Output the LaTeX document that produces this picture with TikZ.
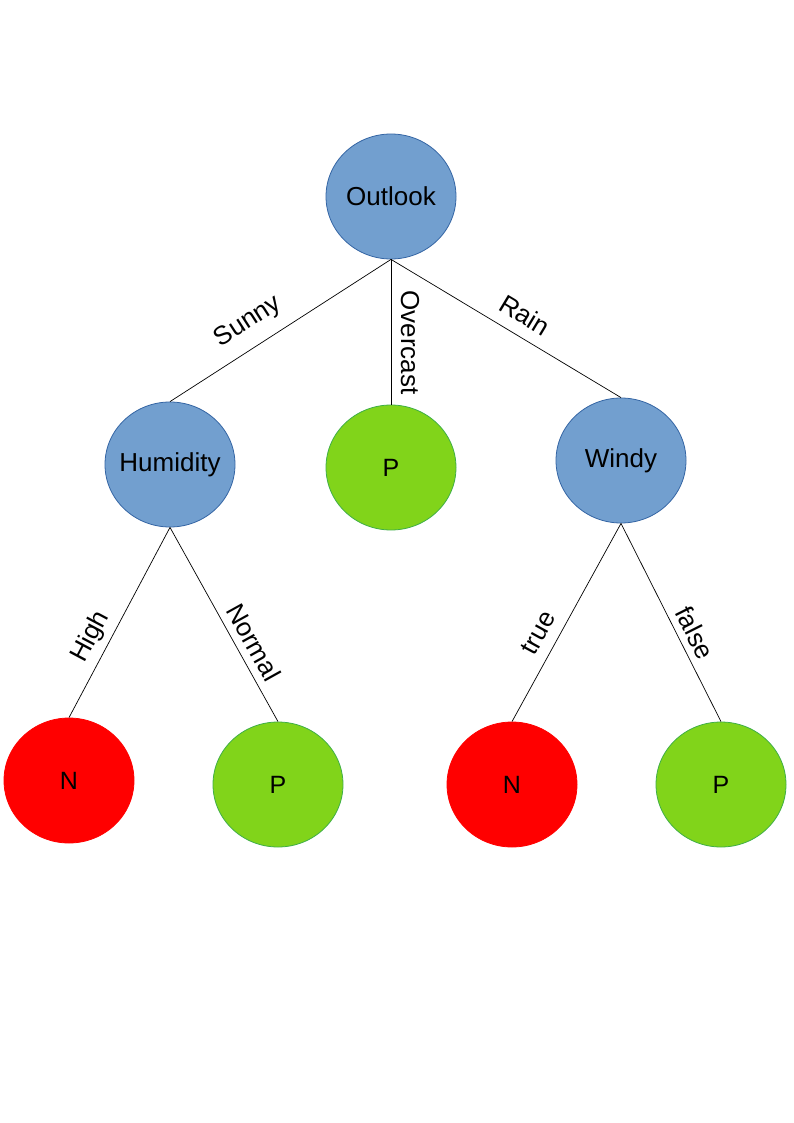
\documentclass[tikz,border=0pt]{standalone}
\usepackage{fontspec}
\setmainfont{Liberation Sans}
\usetikzlibrary{shapes.geometric}
\definecolor{nodeblue}{HTML}{729FCF}
\definecolor{nodeblueline}{HTML}{3465A4}
\definecolor{nodegreen}{HTML}{81D41A}
\definecolor{nodegreenline}{HTML}{3FAF46}
\definecolor{nodered}{HTML}{FF0000}
\newcommand{\nodetext}[1]{\makebox[0pt]{#1}}
\begin{document}
\begin{tikzpicture}[x=1pt,y=-1pt,
  treenode/.style={ellipse, minimum width=130pt, minimum height=125pt, inner sep=0pt, line width=0.8pt, font=\fontsize{26}{30}\selectfont},
  attr/.style={treenode, fill=nodeblue, draw=nodeblueline},
  yes/.style={treenode, fill=nodegreen, draw=nodegreenline, font=\fontsize{25}{30}\selectfont},
  no/.style={treenode, fill=nodered, draw=nodered, font=\fontsize{25}{30}\selectfont},
  edge/.style={draw=black, line width=0.7pt},
  lab/.style={sloped, inner sep=0pt, font=\fontsize{26}{30}\selectfont}]
\useasboundingbox (0,0) rectangle (794,1123);
\fill[white] (0,0) rectangle (794,1123);
\node[attr] (outlook) at (391,196.5) {\nodetext{Outlook}};
\node[attr] (humidity) at (170,464.5) {\nodetext{Humidity}};
\node[yes] (pmid) at (391,467.5) {\nodetext{P}};
\node[attr] (windy) at (621,460.5) {\nodetext{Windy}};
\node[no] (n1) at (69,780.5) {\nodetext{N}};
\node[yes] (p1) at (278,784.5) {\nodetext{P}};
\node[no] (n2) at (512,784.5) {\nodetext{N}};
\node[yes] (p2) at (721,784.5) {\nodetext{P}};
\path[edge] (outlook.south) -- node[lab, pos=0.586, yshift=24.8pt] {Sunny} (humidity.north);
\path[edge] (outlook.south) -- node[lab, allow upside down, pos=0.572, yshift=19pt] {Overcast} (pmid.north);
\path[edge] (outlook.south) -- node[lab, pos=0.535, yshift=21.4pt] {Rain} (windy.north);
\path[edge] (humidity.south) -- node[lab, pos=0.621, yshift=18.4pt] {High} (n1.north);
\path[edge] (humidity.south) -- node[lab, pos=0.636, yshift=17.5pt] {Normal} (p1.north);
\path[edge] (windy.south) -- node[lab, pos=0.601, yshift=19.9pt] {true} (n2.north);
\path[edge] (windy.south) -- node[lab, pos=0.59, yshift=16.7pt] {false} (p2.north);
\end{tikzpicture}
\end{document}
